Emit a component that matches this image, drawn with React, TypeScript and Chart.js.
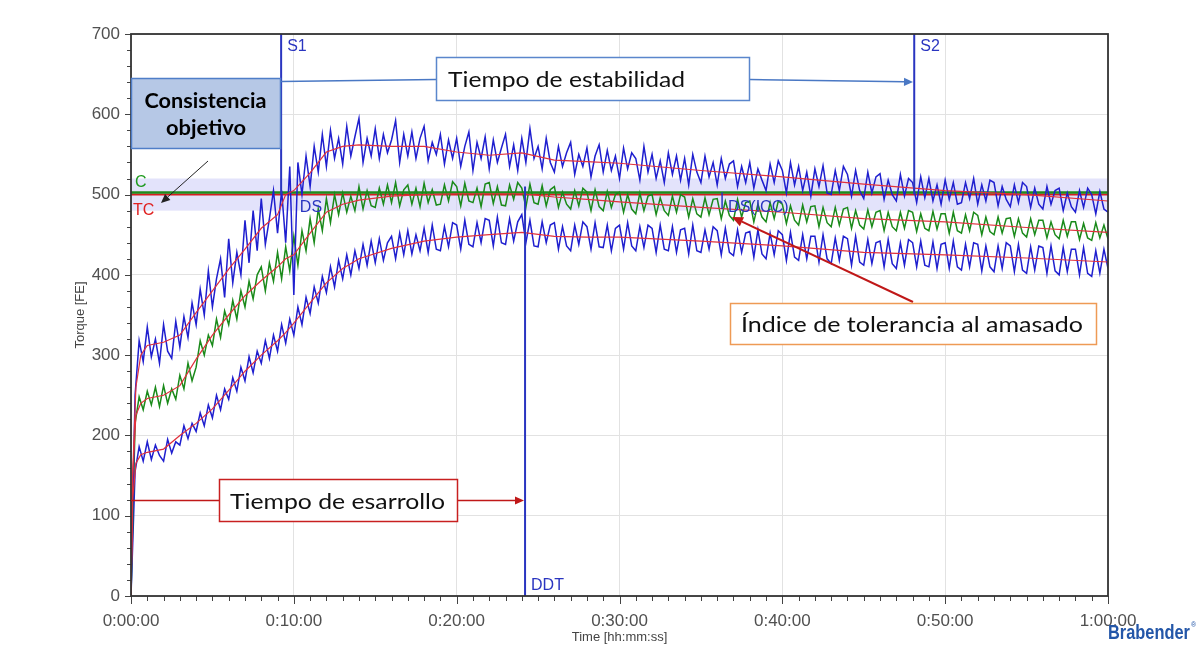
import React, { useEffect, useRef } from "react";
import { Chart, registerables } from "chart.js";

Chart.register(...registerables);

// ---------- data ----------
const SAMPLE_STEP_MIN = 0.25; // one reading every 15 s

const UPPER = [
  0, 250, 318, 292,
  335, 298, 320, 290,
  338, 305, 296, 342,
  310, 348, 322, 365,
  338, 382, 350, 405,
  360, 395, 420, 372,
  445, 390, 428, 400,
  468, 415, 480, 430,
  495, 438, 470, 505,
  452, 505, 440, 535,
  375, 540, 500, 548,
  510, 560, 528, 575,
  535, 580, 545, 570,
  538, 585, 548, 572,
  595, 540, 570, 548,
  582, 545, 575, 552,
  568, 592, 540, 575,
  548, 578, 545, 570,
  585, 542, 565, 550,
  575, 538, 568, 545,
  570, 535, 560, 578,
  530, 565, 545, 572,
  532, 568, 540, 558,
  575, 535, 562, 530,
  570, 540, 582, 545,
  560, 532, 570, 540,
  528, 560, 535, 552,
  565, 525, 550, 535,
  558, 522, 548, 562,
  528, 555, 530, 548,
  520, 558, 532, 552,
  545, 518, 560, 528,
  550, 520, 542, 515,
  552, 525, 548, 518,
  545, 512, 550, 528,
  515, 548, 522, 540,
  512, 545, 520, 538,
  542, 510, 535, 515,
  540, 508, 532, 518,
  505, 538, 515, 542,
  530, 502, 540, 512,
  535, 505, 528, 498,
  532, 510, 536, 502,
  500, 530, 505, 535,
  525, 498, 530, 505,
  495, 528, 502, 522,
  526, 494, 518, 500,
  492, 525, 498, 520,
  515, 490, 522, 496,
  520, 492, 512, 488,
  518, 494, 515, 488,
  490, 515, 495, 520,
  488, 512, 492, 518,
  515, 486, 510, 494,
  485, 512, 490, 515,
  510, 484, 508, 488,
  482, 510, 488, 505,
  508, 480, 502, 485,
  478, 505, 484, 508,
  500, 476, 504, 482,
  478,
];

const MIDDLE = [
  0, 215, 248, 232,
  255, 238, 260, 236,
  262, 240, 258, 245,
  275, 258, 290, 268,
  285, 318, 300, 325,
  312, 345, 322, 355,
  338, 368, 345, 380,
  360, 392, 370, 400,
  410, 380, 415, 392,
  428, 395, 435, 405,
  448, 412, 455, 430,
  470, 440, 482, 455,
  495, 465, 500, 475,
  502, 478, 498, 480,
  510, 482, 505, 486,
  484, 508, 488, 512,
  490, 515, 486, 506,
  512, 488, 508, 485,
  514, 490, 506, 487,
  488, 512, 492, 516,
  510, 486, 514, 492,
  490, 508, 485, 513,
  515, 489, 510, 487,
  486, 512, 494, 515,
  508, 484, 513, 490,
  488, 511, 486, 506,
  510, 484, 503, 488,
  482, 505, 486, 508,
  503, 480, 506, 485,
  480, 504, 484, 500,
  503, 478, 500, 482,
  476, 502, 480, 498,
  500, 475, 496, 480,
  474, 498, 478, 500,
  497, 472, 495, 476,
  472, 496, 475, 494,
  495, 470, 492, 474,
  468, 494, 472, 490,
  492, 466, 488, 472,
  466, 490, 470, 492,
  488, 464, 486, 468,
  462, 487, 466, 485,
  486, 460, 484, 465,
  460, 484, 462, 482,
  484, 458, 480, 462,
  457, 481, 460, 478,
  480, 455, 478, 460,
  455, 478, 458, 480,
  478, 454, 476, 458,
  455, 479, 457, 476,
  476, 452, 478, 455,
  452, 475, 455, 478,
  474, 450, 472, 454,
  450, 472, 452, 470,
  471, 448, 470, 452,
  447, 470, 450, 468,
  468, 446, 466, 450,
  445, 468, 448, 466,
  466, 444, 464, 446,
  443, 465, 446, 462,
  445,
];

const LOWER = [
  0, 155, 186, 168,
  192, 170, 188, 175,
  168, 195, 178, 192,
  188, 212, 196, 215,
  205, 228, 212, 238,
  222, 250, 232, 258,
  245, 272, 255, 285,
  268, 298, 278, 305,
  290, 318, 296, 325,
  305, 338, 315, 345,
  325, 360, 338, 372,
  352, 385, 365, 398,
  378, 410, 385, 418,
  395, 425, 400, 430,
  408, 438, 412, 442,
  415, 445, 418, 440,
  448, 420, 452, 425,
  455, 426, 450, 430,
  458, 428, 462, 432,
  430, 460, 435, 465,
  462, 432, 468, 438,
  435, 465, 440, 470,
  468, 436, 472, 440,
  438, 470, 442, 466,
  475, 440, 468, 436,
  435, 466, 440, 462,
  465, 432, 460, 436,
  430, 462, 438, 466,
  460, 432, 465, 435,
  434, 462, 430, 458,
  462, 432, 465, 436,
  430, 460, 434, 462,
  458, 428, 462, 432,
  430, 460, 428, 456,
  458, 426, 462, 430,
  428, 456, 432, 460,
  455, 425, 458, 428,
  424, 456, 428, 452,
  454, 422, 456, 426,
  420, 452, 425, 455,
  450, 418, 453, 422,
  418, 450, 420, 448,
  448, 416, 450, 420,
  414, 446, 418, 448,
  445, 412, 448, 416,
  412, 444, 414, 440,
  442, 410, 444, 414,
  408, 440, 412, 444,
  440, 410, 442, 412,
  410, 441, 408, 438,
  440, 408, 442, 410,
  406, 438, 410, 440,
  438, 405, 436, 410,
  404, 436, 408, 440,
  436, 404, 438, 406,
  402, 435, 406, 436,
  434, 402, 436, 405,
  400, 434, 404, 432,
  432, 400, 434, 402,
  398, 430, 402, 432,
  408,
];

const SMOOTH_T = [0, 0.1, 0.3, 0.6, 1, 2, 3, 4, 5, 6, 7, 8, 9, 9.5, 10, 11, 12, 13, 14, 16, 18, 20, 22, 24, 26, 28, 30, 35, 40, 45, 50, 55, 60];
const UPPER_SMOOTH = [0, 150, 260, 300, 312, 316, 325, 353, 380, 407, 432, 458, 475, 500, 505, 527, 553, 560, 562, 560, 560, 553, 549, 552, 543, 541, 539, 530, 522, 513, 505, 500, 492];
const MIDDLE_SMOOTH = [0, 150, 225, 240, 246, 250, 262, 295, 325, 350, 374, 393, 410, 420, 425, 452, 478, 488, 493, 498, 500, 501, 501, 501, 497, 494, 491, 484, 478, 470, 466, 459, 453];
const LOWER_SMOOTH = [0, 120, 165, 176, 179, 183, 200, 215, 233, 256, 280, 300, 318, 328, 340, 365, 390, 408, 420, 433, 442, 447, 450, 453, 448, 447, 447, 442, 436, 428, 425, 421, 416];

const X_TICKS = [0, 10, 20, 30, 40, 50, 60];
const X_TICK_LABELS = ["0:00:00", "0:10:00", "0:20:00", "0:30:00", "0:40:00", "0:50:00", "1:00:00"];
const Y_TICKS = [0, 100, 200, 300, 400, 500, 600, 700];

const C_LEVEL = 502.5;
const TC_LEVEL = 500;
const BAND_LOW = 480;
const BAND_HIGH = 520;

const S1_T = 9.22;
const S2_T = 48.1;
const DDT_T = 24.2;
const DS_T = 10.0;
const DSICC_T = 36.3;
const S_LINE_RANGE = [700, 500];
const DDT_LINE_RANGE = [510, 0];
const DSICC_LINE_RANGE = [503, 482];

// ---------- colours ----------
const NOISE_BLUE = "#1f1fcf";
const NOISE_GREEN = "#1a8a1a";
const SMOOTH_RED = "#e0303c";
const MARK_BLUE = "#2a35c0";

const TICK_FONT = '"Liberation Sans", Arial, sans-serif';

function series(values: number[]) {
  return values.map((v, i) => ({ x: i * SAMPLE_STEP_MIN, y: v }));
}
function smooth(values: number[]) {
  return values.map((v, i) => ({ x: SMOOTH_T[i], y: v }));
}
function vline(t: number, range: number[]) {
  return [{ x: t, y: range[0] }, { x: t, y: range[1] }];
}
function hline(v: number) {
  return [{ x: 0, y: v }, { x: 60, y: v }];
}

const farinoPlugin = {
  id: "farino",
  beforeDatasetsDraw(chart: any) {
    const { ctx, chartArea: a, scales } = chart;
    const y = scales.y;
    const top = y.getPixelForValue(BAND_HIGH);
    const bot = y.getPixelForValue(BAND_LOW);
    ctx.save();
    ctx.fillStyle = "rgba(200,200,248,0.5)";
    ctx.fillRect(a.left, top, a.right - a.left, bot - top);
    ctx.restore();
  },
  afterDatasetsDraw(chart: any) {
    const { ctx, scales } = chart;
    const x = scales.x;
    const y = scales.y;
    ctx.save();
    ctx.font = `16px ${TICK_FONT}`;
    ctx.textAlign = "left";
    ctx.textBaseline = "alphabetic";
    ctx.fillStyle = MARK_BLUE;
    ctx.fillText("S1", x.getPixelForValue(S1_T) + 6, y.getPixelForValue(700) + 17);
    ctx.fillText("S2", x.getPixelForValue(S2_T) + 6, y.getPixelForValue(700) + 17);
    ctx.fillText("DS", x.getPixelForValue(DS_T) + 6, y.getPixelForValue(TC_LEVEL) + 17);
    ctx.fillText("DS(ICC)", x.getPixelForValue(DSICC_T) + 6, y.getPixelForValue(TC_LEVEL) + 17);
    ctx.fillText("DDT", x.getPixelForValue(DDT_T) + 6, y.getPixelForValue(0) - 6);
    ctx.fillStyle = "#1e9a1e";
    ctx.fillText("C", x.getPixelForValue(0) + 4, y.getPixelForValue(C_LEVEL) - 6);
    ctx.fillStyle = "#e02020";
    ctx.fillText("TC", x.getPixelForValue(0) + 2, y.getPixelForValue(TC_LEVEL) + 20);
    ctx.restore();
  },
  afterDraw(chart: any) {
    const { ctx, chartArea: a, scales } = chart;
    const x = scales.x;
    const y = scales.y;
    ctx.save();
    ctx.strokeStyle = "#444";
    ctx.lineWidth = 1;
    ctx.beginPath();
    for (let v = 0; v <= 700; v += 20) {
      const py = Math.round(y.getPixelForValue(v)) + 0.5;
      const len = v % 100 === 0 ? 6 : 4;
      ctx.moveTo(a.left - len, py);
      ctx.lineTo(a.left, py);
    }
    for (let t = 0; t <= 60; t += 1) {
      const px = Math.round(x.getPixelForValue(t)) + 0.5;
      const len = t % 10 === 0 ? 8 : 5;
      ctx.moveTo(px, a.bottom);
      ctx.lineTo(px, a.bottom + len);
    }
    ctx.stroke();
    ctx.strokeStyle = "#333";
    ctx.lineWidth = 1.8;
    ctx.strokeRect(a.left, a.top, a.right - a.left, a.bottom - a.top);
    ctx.fillStyle = "#444";
    ctx.font = `13px ${TICK_FONT}`;
    ctx.textAlign = "center";
    ctx.textBaseline = "middle";
    ctx.fillText("Time [hh:mm:ss]", (a.left + a.right) / 2, 637);
    ctx.translate(80, (a.top + a.bottom) / 2);
    ctx.rotate(-Math.PI / 2);
    ctx.fillText("Torque [FE]", 0, 0);
    ctx.restore();
  },
};

function Arrow(props: { x1: number; y1: number; x2: number; y2: number; color: string; width: number; head: number }) {
  const { x1, y1, x2, y2, color, width, head } = props;
  const ang = Math.atan2(y2 - y1, x2 - x1);
  const bx = x2 - head * Math.cos(ang);
  const by = y2 - head * Math.sin(ang);
  const px = -Math.sin(ang) * head * 0.45;
  const py = Math.cos(ang) * head * 0.45;
  return (
    <g>
      <line x1={x1} y1={y1} x2={bx} y2={by} stroke={color} strokeWidth={width} />
      <polygon points={`${x2},${y2} ${bx + px},${by + py} ${bx - px},${by - py}`} fill={color} />
    </g>
  );
}

const BOX_FONT = 'Lato, "Open Sans", sans-serif';

export default function App() {
  const ref = useRef<HTMLCanvasElement>(null);

  useEffect(() => {
    const base = { pointRadius: 0, fill: false, tension: 0 };
    const chart = new Chart(ref.current as HTMLCanvasElement, {
      type: "line",
      data: {
        datasets: [
          { ...base, label: "S1", data: vline(S1_T, S_LINE_RANGE), borderColor: MARK_BLUE, borderWidth: 2, order: 0 },
          { ...base, label: "S2", data: vline(S2_T, S_LINE_RANGE), borderColor: MARK_BLUE, borderWidth: 2, order: 0 },
          { ...base, label: "DDT", data: vline(DDT_T, DDT_LINE_RANGE), borderColor: MARK_BLUE, borderWidth: 2, order: 0 },
          { ...base, label: "DS(ICC)", data: vline(DSICC_T, DSICC_LINE_RANGE), borderColor: MARK_BLUE, borderWidth: 1.5, order: 0 },
          { ...base, label: "upper smooth", data: smooth(UPPER_SMOOTH), borderColor: SMOOTH_RED, borderWidth: 1.2, order: 1 },
          { ...base, label: "middle smooth", data: smooth(MIDDLE_SMOOTH), borderColor: SMOOTH_RED, borderWidth: 1.2, order: 1 },
          { ...base, label: "lower smooth", data: smooth(LOWER_SMOOTH), borderColor: SMOOTH_RED, borderWidth: 1.2, order: 1 },
          { ...base, label: "upper", data: series(UPPER), borderColor: NOISE_BLUE, borderWidth: 1.5, order: 2 },
          { ...base, label: "middle", data: series(MIDDLE), borderColor: NOISE_GREEN, borderWidth: 1.5, order: 2 },
          { ...base, label: "lower", data: series(LOWER), borderColor: NOISE_BLUE, borderWidth: 1.5, order: 2 },
          { ...base, label: "C", data: hline(C_LEVEL), borderColor: "#1e8c1e", borderWidth: 2.4, order: 3 },
          { ...base, label: "TC", data: hline(TC_LEVEL), borderColor: "#d42020", borderWidth: 2, order: 4 },
        ],
      },
      options: {
        responsive: false,
        animation: false,
        events: [],
        layout: { padding: { left: 0, right: 88, top: 34, bottom: 0 } },
        plugins: { legend: { display: false }, tooltip: { enabled: false } },
        scales: {
          x: {
            type: "linear",
            min: 0,
            max: 60,
            afterBuildTicks: (s: any) => {
              s.ticks = X_TICKS.map((v) => ({ value: v }));
            },
            afterFit: (s: any) => {
              s.height = 50;
            },
            ticks: {
              callback: (v: any) => X_TICK_LABELS[X_TICKS.indexOf(Number(v))],
              font: { family: TICK_FONT, size: 17 },
              color: "#505050",
              padding: 15,
              maxRotation: 0,
              autoSkip: false,
            },
            grid: { color: "#e2e2e2", drawTicks: false, lineWidth: 1 },
            border: { display: false },
          },
          y: {
            min: 0,
            max: 700,
            afterBuildTicks: (s: any) => {
              s.ticks = Y_TICKS.map((v) => ({ value: v }));
            },
            afterFit: (s: any) => {
              s.width = 131;
            },
            ticks: {
              font: { family: TICK_FONT, size: 17 },
              color: "#505050",
              padding: 11,
            },
            grid: { color: "#e2e2e2", drawTicks: false, lineWidth: 1 },
            border: { display: false },
          },
        },
      },
      plugins: [farinoPlugin],
    } as any);
    return () => chart.destroy();
  }, []);

  return (
    <div style={{ position: "absolute", left: 0, top: 0, width: 1196, height: 646, background: "#fff", overflow: "hidden" }}>
      <canvas ref={ref} width={1196} height={646} style={{ position: "absolute", left: 0, top: 0, width: 1196, height: 646 }} />
      <svg width={1196} height={646} style={{ position: "absolute", left: 0, top: 0, pointerEvents: "none" }}>
        {/* Consistencia objetivo */}
        <rect x={131.5} y={78.5} width={149} height={70} fill="#b6c8e6" stroke="#4f7ec8" strokeWidth={1.5} />
        <text x={205.5} y={107.5} textAnchor="middle" fontFamily={BOX_FONT} fontWeight={700} fontSize={20} fill="#000" textLength={122} lengthAdjust="spacingAndGlyphs">Consistencia</text>
        <text x={206} y={135} textAnchor="middle" fontFamily={BOX_FONT} fontWeight={700} fontSize={20} fill="#000" textLength={80} lengthAdjust="spacingAndGlyphs">objetivo</text>
        <Arrow x1={208} y1={161} x2={161} y2={203} color="#222" width={1} head={9} />

        {/* Tiempo de estabilidad */}
        <line x1={281} y1={81.5} x2={436} y2={79.5} stroke="#4a78c4" strokeWidth={1.5} />
        <Arrow x1={750} y1={79.5} x2={913} y2={82} color="#4a78c4" width={1.5} head={9} />
        <rect x={436.5} y={57.5} width={313} height={43} fill="#fff" stroke="#5a86cc" strokeWidth={1.5} />
        <text x={448} y={87} fontFamily={BOX_FONT} fontSize={22} fill="#111" textLength={237} lengthAdjust="spacingAndGlyphs">Tiempo de estabilidad</text>

        {/* Índice de tolerancia al amasado */}
        <Arrow x1={913} y1={302} x2={732} y2={217} color="#c01818" width={2} head={11} />
        <rect x={730.5} y={303.5} width={366} height={41} fill="#fff" stroke="#ee9a55" strokeWidth={1.5} />
        <text x={741} y={332} fontFamily={BOX_FONT} fontSize={22} fill="#111" textLength={342} lengthAdjust="spacingAndGlyphs">Índice de tolerancia al amasado</text>

        {/* Tiempo de esarrollo */}
        <line x1={131} y1={500.5} x2={219} y2={500.5} stroke="#c01818" strokeWidth={1.5} />
        <Arrow x1={458} y1={500.5} x2={524} y2={500.5} color="#c01818" width={1.5} head={9} />
        <rect x={219.5} y={479.5} width={238} height={42} fill="#fff" stroke="#c82020" strokeWidth={1.5} />
        <text x={230} y={509} fontFamily={BOX_FONT} fontSize={22} fill="#111" textLength={215} lengthAdjust="spacingAndGlyphs">Tiempo de esarrollo</text>

        {/* Brabender logo */}
        <text x={1108} y={639} fontFamily='"Liberation Sans", Arial, sans-serif' fontWeight={700} fontSize={20} fill="#2356a8" textLength={82} lengthAdjust="spacingAndGlyphs">Brabender</text>
        <text x={1191} y={627} fontFamily='"Liberation Sans", Arial, sans-serif' fontSize={7} fill="#2356a8">®</text>
      </svg>
    </div>
  );
}
